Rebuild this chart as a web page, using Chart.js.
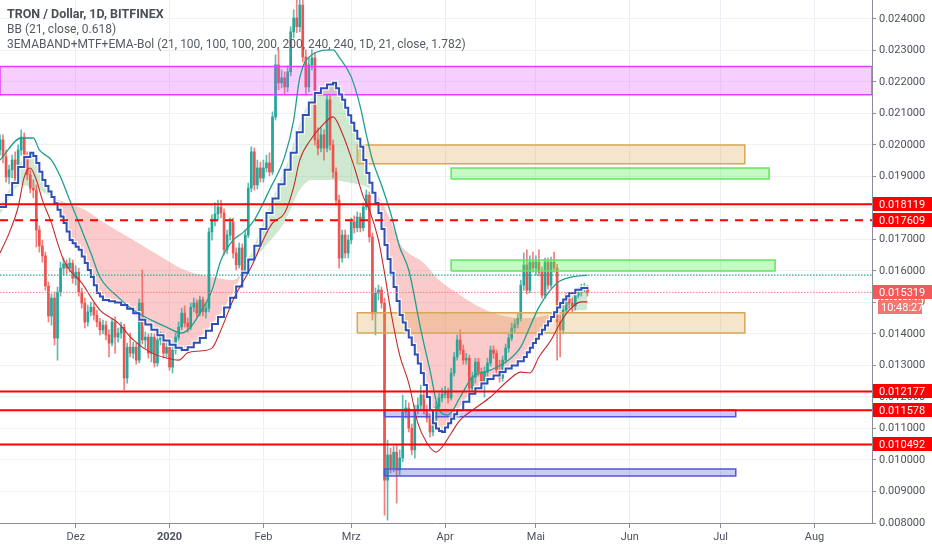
<!DOCTYPE html>
<html>
<head>
<meta charset="utf-8">
<script src="https://cdn.jsdelivr.net/npm/chart.js@4.4.1/dist/chart.umd.min.js"></script>
<style>
  html, body { margin: 0; padding: 0; background: #fff; }
  #rahmen { position: relative; width: 932px; height: 550px; }
  #legende { position: absolute; left: 7px; top: 6px; font-family: Roboto, sans-serif; font-size: 12px; line-height: 15.5px; color: #555a63; pointer-events: none; white-space: nowrap; }
  #legende .titel { font-weight: bold; font-size: 12.5px; color: #4a4e56; }
</style>
</head>
<body>
<div id="rahmen">
  <canvas id="chart-tron" width="932" height="550"></canvas>
  <div id="legende">
    <div class="titel">TRON / Dollar, 1D, BITFINEX</div>
    <div>BB (21, close, 0.618)</div>
    <div>3EMABAND+MTF+EMA-Bol (21, 100, 100, 100, 200, 200, 240, 240, 1D, 21, close, 1.782)</div>
  </div>
</div>
<script>
// Tag 0 = 06.11.2019, eine Kerze pro Tag
const monatTicks = [25, 56, 87, 116, 147, 177, 208, 238, 269];
const monatLabels = ['Dez', '2020', 'Feb', 'Mrz', 'Apr', 'Mai', 'Jun', 'Jul', 'Aug'];
const preisTicks = [0.008, 0.009, 0.010, 0.011, 0.012, 0.013, 0.014, 0.015, 0.016, 0.017, 0.018, 0.019, 0.020, 0.021, 0.022, 0.023, 0.024];

const oeffnung = [
  0.01984, 0.02016, 0.01962, 0.01898, 0.01921, 0.01952, 0.01895, 0.01984, 0.02025, 0.01959,
  0.01905, 0.01863, 0.01857, 0.01730, 0.01679, 0.01648, 0.01552, 0.01457, 0.01514, 0.01387,
  0.01533, 0.01609, 0.01622, 0.01609, 0.01625, 0.01577, 0.01596, 0.01533, 0.01498, 0.01438,
  0.01470, 0.01485, 0.01460, 0.01438, 0.01413, 0.01428, 0.01397, 0.01371, 0.01438, 0.01390,
  0.01403, 0.01422, 0.01260, 0.01358, 0.01339, 0.01358, 0.01317, 0.01498, 0.01381, 0.01390,
  0.01339, 0.01390, 0.01308, 0.01381, 0.01390, 0.01339, 0.01358, 0.01295, 0.01349, 0.01390,
  0.01422, 0.01466, 0.01435, 0.01422, 0.01485, 0.01498, 0.01466, 0.01508, 0.01470, 0.01482,
  0.01724, 0.01762, 0.01781, 0.01803, 0.01784, 0.01667, 0.01714, 0.01756, 0.01657, 0.01619,
  0.01673, 0.01596, 0.01714, 0.01863, 0.01978, 0.01873, 0.01927, 0.01895, 0.01927, 0.01943,
  0.01914, 0.02089, 0.02254, 0.02197, 0.02213, 0.02184, 0.02232, 0.02359, 0.02403, 0.02375,
  0.02444, 0.02279, 0.02184, 0.02254, 0.02276, 0.02016, 0.01990, 0.02032, 0.01990, 0.02143,
  0.02000, 0.01914, 0.01825, 0.01641, 0.01714, 0.01657, 0.01698, 0.01756, 0.01737, 0.01771,
  0.01737, 0.01803, 0.01841, 0.01708, 0.01466, 0.01530, 0.01539, 0.01498, 0.00936, 0.01016,
  0.00974, 0.01025, 0.00968, 0.01006, 0.01152, 0.01165, 0.01101, 0.01032, 0.01158, 0.01174,
  0.01206, 0.01158, 0.01133, 0.01089, 0.01127, 0.01168, 0.01197, 0.01209, 0.01216, 0.01197,
  0.01276, 0.01327, 0.01381, 0.01349, 0.01317, 0.01323, 0.01228, 0.01263, 0.01311, 0.01279,
  0.01238, 0.01279, 0.01308, 0.01349, 0.01339, 0.01285, 0.01260, 0.01317, 0.01355, 0.01387,
  0.01419, 0.01431, 0.01450, 0.01555, 0.01619, 0.01539, 0.01628, 0.01609, 0.01628, 0.01596,
  0.01523, 0.01628, 0.01555, 0.01628, 0.01609, 0.01438, 0.01413, 0.01476, 0.01514, 0.01498,
  0.01489, 0.01523, 0.01533, 0.01546, 0.01549
];
const hoch = [
  0.02032, 0.02032, 0.01984, 0.01936, 0.01968, 0.01978, 0.02000, 0.02048, 0.02038, 0.01978,
  0.01921, 0.01889, 0.01873, 0.01743, 0.01698, 0.01660, 0.01565, 0.01527, 0.01533, 0.01549,
  0.01628, 0.01641, 0.01635, 0.01641, 0.01635, 0.01616, 0.01609, 0.01546, 0.01514, 0.01492,
  0.01501, 0.01498, 0.01476, 0.01450, 0.01444, 0.01441, 0.01413, 0.01450, 0.01454, 0.01419,
  0.01438, 0.01431, 0.01371, 0.01403, 0.01374, 0.01371, 0.01511, 0.01603, 0.01406, 0.01400,
  0.01403, 0.01400, 0.01394, 0.01406, 0.01403, 0.01374, 0.01371, 0.01362, 0.01403, 0.01438,
  0.01482, 0.01489, 0.01450, 0.01498, 0.01514, 0.01508, 0.01520, 0.01517, 0.01498, 0.01737,
  0.01778, 0.01816, 0.01825, 0.01825, 0.01797, 0.01730, 0.01768, 0.01768, 0.01673, 0.01689,
  0.01686, 0.01730, 0.01879, 0.01994, 0.01990, 0.01952, 0.01946, 0.01952, 0.01968, 0.01975,
  0.02105, 0.02286, 0.02302, 0.02238, 0.02232, 0.02251, 0.02375, 0.02429, 0.02476, 0.02540,
  0.02492, 0.02302, 0.02276, 0.02302, 0.02295, 0.02054, 0.02054, 0.02048, 0.02159, 0.02156,
  0.02016, 0.01927, 0.01841, 0.01730, 0.01730, 0.01714, 0.01768, 0.01775, 0.01787, 0.01784,
  0.01816, 0.01857, 0.01851, 0.01720, 0.01546, 0.01555, 0.01549, 0.01514, 0.01063, 0.01038,
  0.01044, 0.01047, 0.01032, 0.01206, 0.01190, 0.01181, 0.01114, 0.01174, 0.01197, 0.01238,
  0.01222, 0.01174, 0.01146, 0.01143, 0.01184, 0.01212, 0.01228, 0.01234, 0.01228, 0.01292,
  0.01342, 0.01397, 0.01413, 0.01365, 0.01339, 0.01333, 0.01279, 0.01323, 0.01323, 0.01292,
  0.01295, 0.01323, 0.01362, 0.01362, 0.01349, 0.01317, 0.01330, 0.01368, 0.01400, 0.01435,
  0.01447, 0.01466, 0.01571, 0.01657, 0.01667, 0.01648, 0.01660, 0.01648, 0.01667, 0.01613,
  0.01641, 0.01641, 0.01644, 0.01660, 0.01622, 0.01460, 0.01492, 0.01530, 0.01527, 0.01514,
  0.01536, 0.01546, 0.01558, 0.01561, 0.01555
];
const tief = [
  0.01968, 0.01943, 0.01882, 0.01876, 0.01895, 0.01882, 0.01882, 0.01968, 0.01936, 0.01889,
  0.01848, 0.01832, 0.01676, 0.01660, 0.01628, 0.01539, 0.01438, 0.01428, 0.01365, 0.01317,
  0.01520, 0.01587, 0.01590, 0.01596, 0.01561, 0.01555, 0.01520, 0.01482, 0.01419, 0.01425,
  0.01457, 0.01444, 0.01422, 0.01397, 0.01400, 0.01381, 0.01327, 0.01362, 0.01339, 0.01374,
  0.01387, 0.01222, 0.01244, 0.01327, 0.01323, 0.01304, 0.01308, 0.01368, 0.01355, 0.01323,
  0.01311, 0.01295, 0.01298, 0.01365, 0.01323, 0.01327, 0.01285, 0.01276, 0.01336, 0.01381,
  0.01413, 0.01422, 0.01406, 0.01413, 0.01470, 0.01454, 0.01457, 0.01457, 0.01450, 0.01470,
  0.01698, 0.01743, 0.01762, 0.01768, 0.01651, 0.01654, 0.01698, 0.01641, 0.01603, 0.01609,
  0.01584, 0.01587, 0.01705, 0.01851, 0.01857, 0.01860, 0.01882, 0.01882, 0.01914, 0.01902,
  0.01905, 0.02079, 0.02175, 0.02181, 0.02159, 0.02168, 0.02219, 0.02340, 0.02356, 0.02359,
  0.02263, 0.02159, 0.02168, 0.02238, 0.02000, 0.01968, 0.01978, 0.01952, 0.01978, 0.01984,
  0.01895, 0.01809, 0.01609, 0.01628, 0.01641, 0.01641, 0.01686, 0.01720, 0.01724, 0.01724,
  0.01727, 0.01794, 0.01692, 0.01444, 0.01397, 0.01508, 0.01482, 0.00825, 0.00809, 0.00959,
  0.00962, 0.00863, 0.00952, 0.00994, 0.01133, 0.01089, 0.01016, 0.01006, 0.01146, 0.01158,
  0.01146, 0.01120, 0.01073, 0.01076, 0.01114, 0.01158, 0.01184, 0.01197, 0.01181, 0.01190,
  0.01266, 0.01317, 0.01336, 0.01304, 0.01304, 0.01216, 0.01212, 0.01244, 0.01266, 0.01225,
  0.01200, 0.01266, 0.01298, 0.01323, 0.01273, 0.01247, 0.01250, 0.01308, 0.01342, 0.01378,
  0.01406, 0.01419, 0.01441, 0.01539, 0.01527, 0.01530, 0.01596, 0.01587, 0.01584, 0.01514,
  0.01514, 0.01542, 0.01546, 0.01596, 0.01317, 0.01327, 0.01400, 0.01463, 0.01482, 0.01470,
  0.01476, 0.01514, 0.01520, 0.01533, 0.01520
];
const schluss = [
  0.02016, 0.01962, 0.01898, 0.01921, 0.01952, 0.01895, 0.01984, 0.02025, 0.01959, 0.01905,
  0.01863, 0.01857, 0.01730, 0.01679, 0.01648, 0.01552, 0.01457, 0.01514, 0.01387, 0.01533,
  0.01609, 0.01622, 0.01609, 0.01625, 0.01577, 0.01596, 0.01533, 0.01498, 0.01438, 0.01470,
  0.01485, 0.01460, 0.01438, 0.01413, 0.01428, 0.01397, 0.01371, 0.01438, 0.01390, 0.01403,
  0.01422, 0.01260, 0.01358, 0.01339, 0.01358, 0.01317, 0.01498, 0.01381, 0.01390, 0.01339,
  0.01390, 0.01308, 0.01381, 0.01390, 0.01339, 0.01358, 0.01295, 0.01349, 0.01390, 0.01422,
  0.01466, 0.01435, 0.01422, 0.01485, 0.01498, 0.01466, 0.01508, 0.01470, 0.01482, 0.01724,
  0.01762, 0.01781, 0.01803, 0.01784, 0.01667, 0.01714, 0.01756, 0.01657, 0.01619, 0.01673,
  0.01596, 0.01714, 0.01863, 0.01978, 0.01873, 0.01927, 0.01895, 0.01927, 0.01943, 0.01914,
  0.02089, 0.02254, 0.02197, 0.02213, 0.02184, 0.02232, 0.02359, 0.02403, 0.02375, 0.02444,
  0.02279, 0.02184, 0.02254, 0.02276, 0.02016, 0.01990, 0.02032, 0.01990, 0.02143, 0.02000,
  0.01914, 0.01825, 0.01641, 0.01714, 0.01657, 0.01698, 0.01756, 0.01737, 0.01771, 0.01737,
  0.01803, 0.01841, 0.01708, 0.01466, 0.01530, 0.01539, 0.01498, 0.00936, 0.01016, 0.00974,
  0.01025, 0.00968, 0.01006, 0.01152, 0.01165, 0.01101, 0.01032, 0.01158, 0.01174, 0.01206,
  0.01158, 0.01133, 0.01089, 0.01127, 0.01168, 0.01197, 0.01209, 0.01216, 0.01197, 0.01276,
  0.01327, 0.01381, 0.01349, 0.01317, 0.01323, 0.01228, 0.01263, 0.01311, 0.01279, 0.01238,
  0.01279, 0.01308, 0.01349, 0.01339, 0.01285, 0.01260, 0.01317, 0.01355, 0.01387, 0.01419,
  0.01431, 0.01450, 0.01555, 0.01619, 0.01539, 0.01628, 0.01609, 0.01628, 0.01596, 0.01523,
  0.01628, 0.01555, 0.01628, 0.01609, 0.01438, 0.01413, 0.01476, 0.01514, 0.01498, 0.01489,
  0.01523, 0.01533, 0.01546, 0.01549, 0.015319
];

const bbOben = [[0,0.01952],[7,0.02022],[11,0.02022],[13,0.01984],[17,0.01952],[20,0.01898],[23,0.01825],[27,0.01730],[30,0.01657],[33,0.01581],[39,0.01517],[44,0.01476],[50,0.01444],[55,0.01422],[60,0.01403],[63,0.01422],[66,0.01466],[70,0.01539],[73,0.01635],[77,0.01698],[80,0.01720],[84,0.01762],[89,0.01857],[94,0.01962],[97,0.02079],[99,0.02213],[103,0.02286],[110,0.02302],[112,0.02279],[116,0.02216],[119,0.02121],[121,0.02032],[123,0.01952],[126,0.01873],[129,0.01784],[132,0.01676],[135,0.01603],[139,0.01413],[142,0.01285],[145,0.01158],[148,0.01143],[152,0.01200],[156,0.01263],[162,0.01285],[168,0.01317],[172,0.01359],[175,0.01422],[178,0.01485],[184,0.01562],[189,0.01581],[194,0.01587]];
const emaStufen = [[0,0.01803],[2,0.01841],[4,0.01879],[6,0.01930],[8,0.01962],[10,0.01975],[11,0.01965],[12,0.01943],[13,0.01915],[14,0.01889],[15,0.01870],[16,0.01852],[17,0.01835],[18,0.01815],[19,0.01794],[20,0.01773],[21,0.01752],[22,0.01725],[23,0.01698],[24,0.01688],[25,0.01677],[26,0.01667],[27,0.01646],[28,0.01625],[29,0.01603],[30,0.01581],[31,0.01555],[32,0.01530],[33,0.01519],[34,0.01508],[36,0.01504],[38,0.01500],[40,0.01492],[42,0.01480],[44,0.01466],[46,0.01445],[48,0.01430],[50,0.01413],[52,0.01396],[54,0.01379],[56,0.01366],[58,0.01356],[60,0.01349],[62,0.01358],[64,0.01372],[66,0.01387],[68,0.01410],[70,0.01432],[72,0.01454],[74,0.01484],[76,0.01515],[78,0.01551],[80,0.01594],[82,0.01636],[84,0.01680],[86,0.01733],[88,0.01784],[90,0.01830],[92,0.01875],[94,0.01921],[96,0.01975],[98,0.02040],[100,0.02095],[102,0.02135],[104,0.02165],[106,0.02180],[108,0.02192],[110,0.02197],[111,0.02180],[112,0.02160],[113,0.02143],[114,0.02118],[115,0.02094],[116,0.02070],[117,0.02045],[118,0.02020],[119,0.01994],[120,0.01952],[121,0.01911],[122,0.01880],[123,0.01848],[124,0.01816],[125,0.01784],[126,0.01733],[127,0.01682],[128,0.01638],[129,0.01594],[130,0.01549],[131,0.01505],[132,0.01460],[133,0.01436],[134,0.01412],[135,0.01389],[136,0.01365],[137,0.01335],[138,0.01306],[139,0.01276],[140,0.01238],[141,0.01200],[142,0.01158],[143,0.01117],[144,0.01100],[145,0.01092],[146,0.01089],[147,0.01103],[148,0.01117],[149,0.01131],[150,0.01145],[151,0.01158],[153,0.01185],[155,0.01210],[157,0.01228],[159,0.01243],[161,0.01257],[163,0.01268],[165,0.01279],[167,0.01290],[169,0.01300],[171,0.01313],[173,0.01327],[174,0.01342],[175,0.01356],[176,0.01371],[177,0.01385],[178,0.01399],[179,0.01413],[180,0.01427],[181,0.01440],[182,0.01454],[183,0.01469],[184,0.01484],[185,0.01498],[186,0.01509],[187,0.01520],[188,0.01530],[190,0.01540],[192,0.01546],[194,0.01543]];
const emaUnten = [[0,0.01657],[3,0.01720],[6,0.01803],[8,0.01898],[10,0.01927],[12,0.01889],[14,0.01825],[17,0.01752],[19,0.01689],[21,0.01635],[23,0.01603],[27,0.01562],[30,0.01517],[33,0.01476],[39,0.01435],[44,0.01381],[50,0.01340],[55,0.01324],[59,0.01317],[62,0.01340],[66,0.01346],[70,0.01355],[73,0.01413],[77,0.01508],[83,0.01613],[88,0.01720],[90,0.01752],[94,0.01784],[97,0.01867],[99,0.01952],[103,0.02022],[106,0.02057],[110,0.02089],[113,0.02038],[117,0.01930],[120,0.01835],[122,0.01794],[125,0.01698],[127,0.01594],[129,0.01476],[132,0.01333],[135,0.01244],[138,0.01117],[141,0.01054],[144,0.01025],[146,0.01041],[149,0.01085],[152,0.01127],[156,0.01158],[162,0.01200],[168,0.01254],[172,0.01279],[175,0.01276],[178,0.01327],[182,0.01381],[185,0.01435],[188,0.01476],[192,0.01502],[194,0.01502]];
const emaLangsam = [[0,0.01780],[7,0.01873],[13,0.01857],[17,0.01835],[22,0.01816],[28,0.01794],[33,0.01762],[44,0.01698],[55,0.01635],[61,0.01603],[70,0.01581],[77,0.01571],[80,0.01594],[88,0.01682],[94,0.01755],[99,0.01857],[103,0.01889],[109,0.01889],[116,0.01879],[121,0.01867],[125,0.01835],[129,0.01762],[132,0.01689],[140,0.01625],[145,0.01571],[151,0.01530],[156,0.01498],[162,0.01470],[168,0.01454],[173,0.01450],[178,0.01454],[181,0.01460],[184,0.01470],[194,0.01476]];

// Horizontale Marken
const niveaus = [0.018119, 0.017609, 0.012177, 0.011578, 0.010492];
const niveauGestrichelt = [false, true, false, false, false];
const countdown = '10:48:27';

// Zonen: Start-/Endtag, Unter-/Oberkante
const zoneStart = [0, 118, 149, 149, 118, 127, 127];
const zoneEnde = [288, 246, 254, 256, 246, 243, 243];
const zoneUnten = [0.02159, 0.01940, 0.01892, 0.01600, 0.01403, 0.01137, 0.00949];
const zoneOben = [0.02249, 0.02000, 0.01927, 0.01635, 0.01467, 0.01159, 0.00971];
const zoneStil = [
  ['rgba(224,64,251,0.25)', '#e040fb'],
  ['rgba(222,170,80,0.30)', '#d8a657'],
  ['rgba(90,240,90,0.35)', '#5ee85e'],
  ['rgba(90,240,90,0.35)', '#5ee85e'],
  ['rgba(222,170,80,0.30)', '#d8a657'],
  ['rgba(80,80,230,0.30)', '#5555d5'],
  ['rgba(80,80,230,0.30)', '#5555d5']
];

const X_MAX = 288;
const letzterKurs = schluss[schluss.length - 1];
const bbLetzter = bbOben[bbOben.length - 1][1];
const punkte = paare => paare.map(p => ({ x: p[0], y: p[1] }));
const farben = oeffnung.map((o, i) => schluss[i] >= o ? '#26a69a' : '#ef5350');
const dochtFarben = oeffnung.map((o, i) => schluss[i] >= o ? 'rgba(38,166,154,0.75)' : 'rgba(239,83,80,0.75)');

const linie = (data, extra) => Object.assign({
  type: 'line', data: data, pointRadius: 0, borderWidth: 1, fill: false, tension: 0
}, extra);

const datasets = [];
// 0 + 1: Wolke zwischen Stufen-EMA und langsamer EMA
datasets.push(linie(punkte(emaStufen), {
  borderColor: 'rgba(0,0,0,0)', borderWidth: 0, cubicInterpolationMode: 'monotone',
  fill: { target: 1, above: 'rgba(76,175,80,0.27)', below: 'rgba(239,83,80,0.30)' }, order: 9
}));
datasets.push(linie(punkte(emaLangsam), {
  borderColor: 'rgba(0,0,0,0)', borderWidth: 0, cubicInterpolationMode: 'monotone', order: 10
}));

// Kerzen
datasets.push({
  type: 'bar', data: hoch.map((h, i) => ({ x: i, y: [tief[i], h] })),
  backgroundColor: dochtFarben, barThickness: 1, grouped: false, order: 7
});
datasets.push({
  type: 'bar', data: oeffnung.map((o, i) => ({ x: i, y: [o, schluss[i]] })),
  backgroundColor: farben, barThickness: 2, minBarLength: 1, grouped: false, order: 6
});

// Zonen als geschlossene Flächen
zoneStart.forEach((s, i) => {
  const e = zoneEnde[i], u = zoneUnten[i], o = zoneOben[i];
  datasets.push(linie([{x: s, y: u}, {x: s, y: o}, {x: e, y: o}, {x: e, y: u}, {x: s, y: u}], {
    backgroundColor: zoneStil[i][0], borderColor: zoneStil[i][1], borderWidth: 1.5, fill: 'shape', order: 5
  }));
});

// Indikatorlinien
datasets.push(linie(punkte(bbOben), { borderColor: '#1fa08f', borderWidth: 1.3, cubicInterpolationMode: 'monotone', order: 3 }));
datasets.push(linie(punkte(emaUnten), { borderColor: '#c62828', borderWidth: 1.1, cubicInterpolationMode: 'monotone', order: 3 }));
datasets.push(linie(punkte(emaStufen), { borderColor: 'rgba(255,255,255,0.85)', borderWidth: 4.5, stepped: true, order: 4 }));
datasets.push(linie(punkte(emaStufen), { borderColor: '#2e4fb8', borderWidth: 2, stepped: true, order: 2 }));

// Horizontale Linien
niveaus.forEach((v, i) => {
  datasets.push(linie([{x: 0, y: v}, {x: X_MAX, y: v}], {
    borderColor: '#ff0000', borderWidth: 2, borderDash: niveauGestrichelt[i] ? [8, 7] : [], order: 1
  }));
});
datasets.push(linie([{x: 0, y: bbLetzter}, {x: X_MAX, y: bbLetzter}], { borderColor: '#26a69a', borderWidth: 1.3, borderDash: [1.5, 1.5], order: 1 }));
datasets.push(linie([{x: 0, y: letzterKurs}, {x: X_MAX, y: letzterKurs}], { borderColor: '#f08080', borderWidth: 1, borderDash: [1.5, 1.5], order: 1 }));

const preisMarken = {
  id: 'preisMarken',
  afterDraw(chart) {
    const ctx = chart.ctx;
    const sy = chart.scales.y;
    const links = chart.chartArea.right + 1;
    const breite = chart.width - links;
    ctx.save();
    ctx.font = '11px Roboto, sans-serif';
    ctx.textBaseline = 'middle';
    const marke = (v, farbe) => {
      const py = Math.round(sy.getPixelForValue(v));
      ctx.fillStyle = farbe;
      ctx.fillRect(links, py - 7, breite, 14);
      ctx.fillStyle = '#fff';
      ctx.fillText(v.toFixed(6), links + 6, py + 1);
      return py;
    };
    niveaus.forEach(v => marke(v, '#ff0000'));
    const py = marke(letzterKurs, '#f05a5a') + 15;
    ctx.fillStyle = '#f27676';
    ctx.fillRect(links + 5, py - 7, 44, 14);
    ctx.fillStyle = '#fff';
    ctx.fillText(countdown, links + 8, py + 1);
    ctx.restore();
  }
};

const schrift = { family: 'Roboto, sans-serif', size: 11 };

new Chart(document.getElementById('chart-tron').getContext('2d'), {
  type: 'bar',
  data: { datasets: datasets },
  options: {
    responsive: false,
    animation: false,
    layout: { padding: 0 },
    plugins: { legend: { display: false }, tooltip: { enabled: false } },
    scales: {
      x: {
        type: 'linear', min: 0, max: X_MAX, offset: false,
        afterBuildTicks: s => { s.ticks = monatTicks.map(v => ({ value: v })); },
        afterFit: s => { s.height = 27; s.paddingLeft = 0; s.paddingRight = 0; },
        ticks: {
          autoSkip: false, maxRotation: 0, padding: 3, color: '#4c525e',
          font: c => ({ family: 'Roboto, sans-serif', size: 11, weight: (c.tick && c.tick.value === 56) ? 'bold' : 'normal' }),
          callback: v => monatLabels[monatTicks.indexOf(v)]
        },
        grid: { offset: false, color: '#e9eff5', tickLength: 5, tickColor: '#8a8d96' },
        border: { color: '#8a8d96' }
      },
      y: {
        type: 'linear', position: 'right', min: 0.008, max: 0.0246,
        afterBuildTicks: s => { s.ticks = preisTicks.map(v => ({ value: v })); },
        afterFit: s => { s.width = 60; s.paddingTop = 0; s.paddingBottom = 0; },
        ticks: { padding: 3, color: '#4c525e', font: schrift, callback: v => v.toFixed(6) },
        grid: { color: '#eef2f6', tickLength: 4, tickColor: '#8a8d96' },
        border: { color: '#8a8d96' }
      }
    }
  },
  plugins: [preisMarken]
});
</script>
</body>
</html>
